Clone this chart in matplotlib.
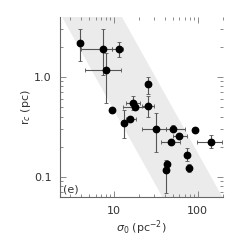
import numpy as np
import matplotlib
matplotlib.use("Agg")
import matplotlib.pyplot as plt
from matplotlib.ticker import FixedLocator, FixedFormatter, LogLocator, NullFormatter

# surface density sigma_0 (pc^-2) and core radius r_c (pc)
sigma0 = [3.95, 7.31, 11.3, 7.98, 25.6, 9.42, 16.7, 17.7, 25.6, 15.6, 13.2,
          31.6, 50.1, 92.7, 60.1, 144, 47.4, 73.8, 43.2, 78.9, 41.7]
rc = [2.20, 1.89, 1.91, 1.16, 0.837, 0.461, 0.548, 0.499, 0.514, 0.379, 0.344,
      0.300, 0.300, 0.295, 0.258, 0.225, 0.220, 0.164, 0.133, 0.123, 0.117]

# error bar bounds (same as value where no bar is drawn)
sigma_lo = [3.95, 3.98, 9.42, 4.48, 25.6, 9.42, 13.8, 12.8, 21.5, 14.0, 13.2,
            21.3, 41.7, 92.7, 50.9, 97.1, 36.1, 73.8, 43.2, 78.9, 41.7]
sigma_hi = [3.95, 9.42, 12.9, 12.0, 25.6, 9.42, 20.4, 24.0, 29.9, 18.0, 13.2,
            41.7, 70.3, 92.7, 73.8, 193, 61.2, 73.8, 43.2, 78.9, 41.7]
rc_lo = [1.44, 1.03, 1.58, 0.548, 0.675, 0.461, 0.469, 0.499, 0.392, 0.379, 0.243,
         0.178, 0.300, 0.295, 0.258, 0.193, 0.220, 0.144, 0.133, 0.112, 0.068]
rc_hi = [2.99, 2.99, 2.25, 1.74, 1.00, 0.461, 0.649, 0.499, 0.638, 0.379, 0.469,
         0.434, 0.331, 0.295, 0.258, 0.263, 0.220, 0.194, 0.133, 0.135, 0.147]

# shaded band r_c = a * sigma^slope
band_slope = -1.5
band_a = [14.5, 173]
panel_label = "(e)"

s = np.array(sigma0)
r = np.array(rc)
xerr = [s - np.array(sigma_lo), np.array(sigma_hi) - s]
yerr = [r - np.array(rc_lo), np.array(rc_hi) - r]

fig = plt.figure(figsize=(2.45, 2.45), dpi=100)
ax = fig.add_axes([0.245, 0.194, 0.665, 0.736])

sb = np.logspace(0, 3, 200)
ax.fill_between(sb, band_a[0] * sb**band_slope, band_a[1] * sb**band_slope,
                color="#ebebeb", lw=0, zorder=0)

ax.errorbar(s, r, xerr=xerr, yerr=yerr, fmt="none", ecolor="#555555",
            elinewidth=0.8, capsize=1.5, capthick=0.6, zorder=2)
ax.plot(s, r, "o", color="black", ms=4.6, zorder=3)

ax.set_xscale("log")
ax.set_yscale("log")
ax.set_xlim(2.25, 200)
ax.set_ylim(0.062, 3.95)

ax.xaxis.set_major_locator(FixedLocator([10, 100]))
ax.xaxis.set_major_formatter(FixedFormatter(["10", "100"]))
ax.yaxis.set_major_locator(FixedLocator([0.1, 1.0]))
ax.yaxis.set_major_formatter(FixedFormatter(["0.1", "1.0"]))
for a in (ax.xaxis, ax.yaxis):
    a.set_minor_locator(LogLocator(subs=np.arange(2, 10)))
    a.set_minor_formatter(NullFormatter())

ax.tick_params(which="both", direction="in", top=True, right=True,
               color="#777777", labelcolor="#333333", labelsize=8, width=0.6)
ax.tick_params(which="major", length=4, pad=6)
ax.tick_params(which="minor", length=2)
for side in ["top", "right"]:
    ax.spines[side].set_visible(False)
for side in ["left", "bottom"]:
    ax.spines[side].set_color("#666666")
    ax.spines[side].set_linewidth(0.8)

ax.set_xlabel(r"$\sigma_0$ (pc$^{-2}$)", fontsize=8, color="#333333", labelpad=2)
ax.set_ylabel(r"r$_c$ (pc)", fontsize=8, color="#333333", labelpad=1)
ax.text(0.02, 0.03, panel_label, transform=ax.transAxes, fontsize=8, color="#333333")

fig.savefig("out.png", dpi=100)
